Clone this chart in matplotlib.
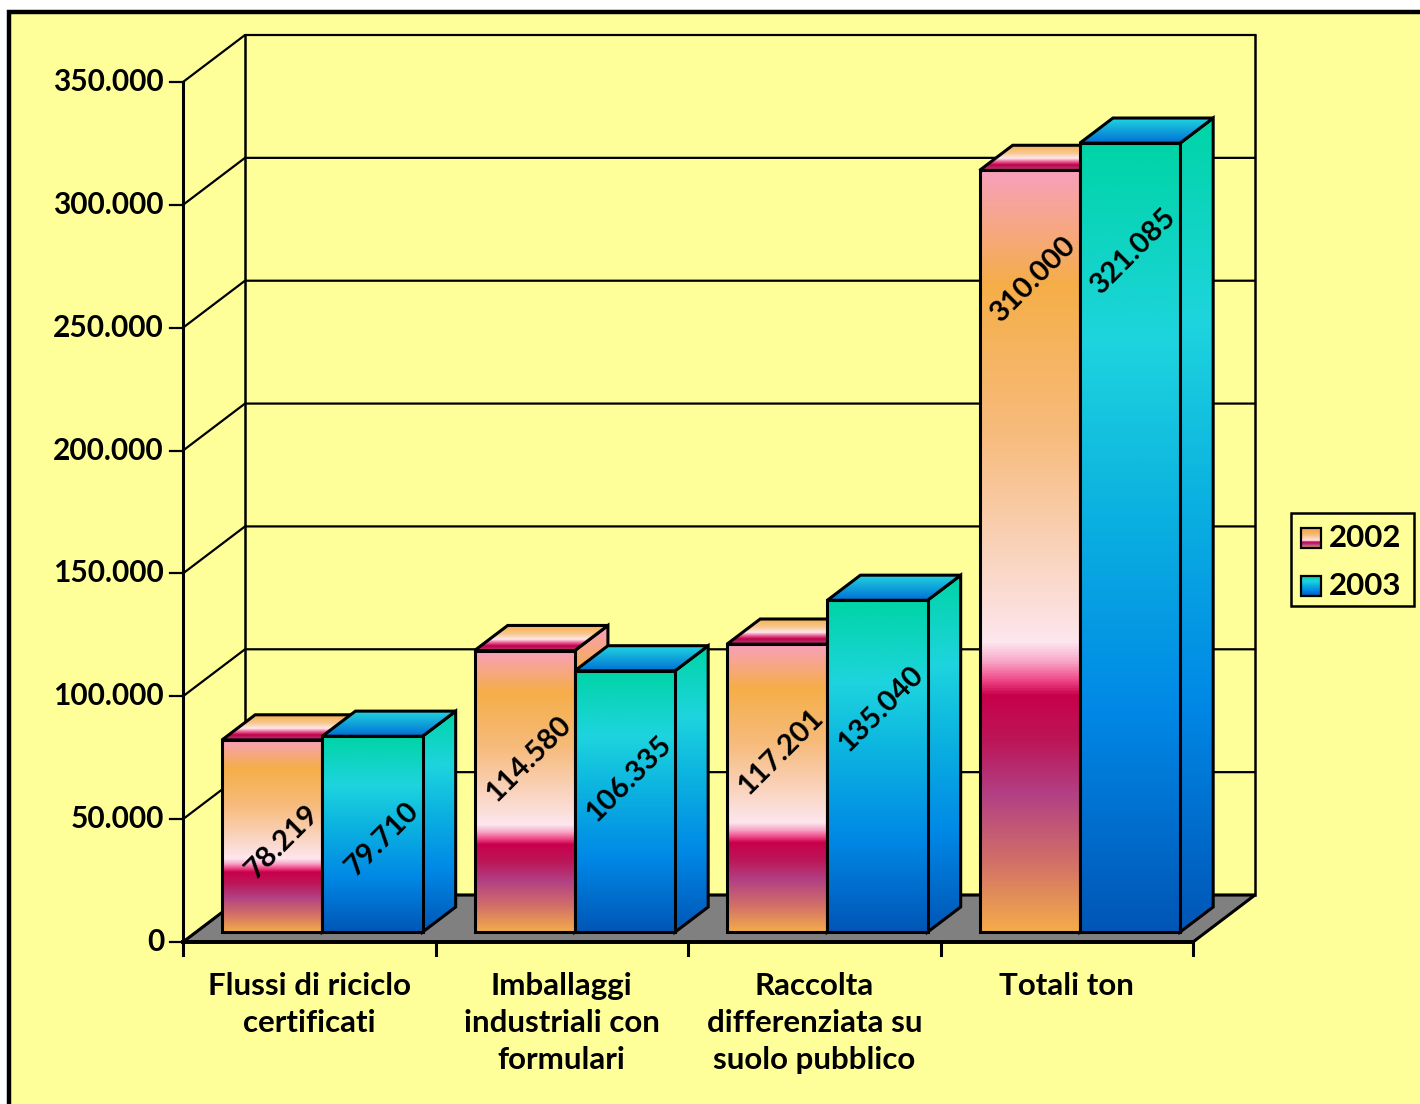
import numpy as np
import matplotlib.pyplot as plt
from matplotlib.colors import LinearSegmentedColormap
from matplotlib.patches import Polygon, Rectangle

plt.rcParams['font.family'] = ['Lato', 'DejaVu Sans']

categories = ['Flussi di riciclo\ncertificati',
              'Imballaggi\nindustriali con\nformulari',
              'Raccolta\ndifferenziata su\nsuolo pubblico',
              'Totali ton']
series_names = ['2002', '2003']
values_2002 = [78219, 114580, 117201, 310000]
values_2003 = [79710, 106335, 135040, 321085]
yticks = [0, 50000, 100000, 150000, 200000, 250000, 300000, 350000]

BG = '#ffff99'

# gradients, first stop = top of the face
cmap_2002 = LinearSegmentedColormap.from_list('c2002', [
    (0.0, '#f8a0bc'), (0.15, '#f5ae48'), (0.35, '#f7bc7e'), (0.52, '#fad6c4'),
    (0.62, '#fde6ee'), (0.645, '#f8a8c8'), (0.67, '#f04888'), (0.69, '#c8004c'),
    (0.75, '#bc1658'), (0.82, '#b24084'), (0.91, '#d27068'), (1.0, '#f4ac4a')])
cmap_2003 = LinearSegmentedColormap.from_list('c2003', [
    (0.0, '#00d4a6'), (0.25, '#1ed4de'), (0.45, '#0cb4e0'), (0.72, '#0088e6'),
    (1.0, '#0056b6')])
top_2002 = LinearSegmentedColormap.from_list('t2002', [
    (0.0, '#f5ae48'), (0.35, '#f8c890'), (0.55, '#fde8ee'), (0.66, '#f070a0'),
    (0.8, '#c0004a'), (1.0, '#b84078')])
top_2003 = LinearSegmentedColormap.from_list('t2003', [
    (0.0, '#22d8e0'), (1.0, '#0070d6')])
GRAD = np.linspace(0, 1, 512).reshape(-1, 1)

fig = plt.figure(figsize=(14.2, 11.04), dpi=100, facecolor='white')
ax = fig.add_axes([0, 0, 1, 1])
ax.axis('off')
ax.set_facecolor('none')

# pixel layout of the front plane: category 0..4 and value 0..350000
X0, PX_CAT = 183, 252.5
Y0, PX_VAL = 942, 860 / 350000
W, H = 1420, 1104


def px(x, y):
    return (x - X0) / PX_CAT, (Y0 - y) / PX_VAL


DX = 62 / PX_CAT
DY = 47 / PX_VAL
D_FRONT, D_BACK = 0.21, 0.745
GAP, BAR_W = 0.103, 0.397
LW = 2.2

TICK_FS = 21.5
CAT_FS = 22.5
VAL_FS = 21
LEG_FS = 22.5


def proj(x, v, d):
    return x + d * DX, v + d * DY


# outer frame
ax.add_patch(Rectangle((9 / W, -0.1), 1.2, 1 - 12 / H + 0.1, transform=ax.transAxes,
                       facecolor=BG, edgecolor='black', lw=3.2, zorder=0))

# floor
n = len(categories)
floor = [proj(0, 0, 0), proj(n, 0, 0), proj(n, 0, 1), proj(0, 0, 1)]
ax.add_patch(Polygon(floor, closed=True, facecolor='#808080', edgecolor='black',
                     lw=LW, zorder=1, joinstyle='miter'))

# walls and gridlines
for v in yticks:
    xa, ya = proj(0, v, 0)
    xb, yb = proj(0, v, 1)
    xc, yc = proj(n, v, 1)
    ax.plot([xa, xb, xc], [ya, yb, yc], color='black', lw=1.6, zorder=2)
    tx0, _ = px(170, 0)
    ax.plot([tx0, 0], [v, v], color='black', lw=1.6, zorder=2)
    ax.text(px(164, 0)[0], v, f'{v:,}'.replace(',', '.'), ha='right', va='center',
            fontsize=TICK_FS, fontweight='bold')

top = yticks[-1]
ax.plot([0, 0], [0, top], color='black', lw=LW, zorder=2)
for x in (0, n):
    xb0, yb0 = proj(x, 0, 1)
    xb1, yb1 = proj(x, top, 1)
    ax.plot([xb0, xb1], [yb0, yb1], color='black', lw=1.8, zorder=2)
ax.plot([0, n], [0, 0], color='black', lw=LW + 0.6, zorder=3)

# category ticks and labels
tick_low = px(0, 955)[1]
for i in range(n + 1):
    ax.plot([i, i], [0, tick_low], color='black', lw=LW, zorder=3)
for i, lab in enumerate(categories):
    ax.text(i + 0.5, px(0, 972)[1], lab, ha='center', va='top', fontsize=CAT_FS,
            fontweight='bold', linespacing=1.4)


def face(verts, cmap, z):
    xs = [p[0] for p in verts]
    ys = [p[1] for p in verts]
    poly = Polygon(verts, closed=True, facecolor='none', edgecolor='black',
                   lw=LW, zorder=z + 0.05, joinstyle='miter')
    ax.add_patch(poly)
    im = ax.imshow(GRAD, cmap=cmap, extent=(min(xs), max(xs), min(ys), max(ys)),
                   aspect='auto', origin='upper', interpolation='bilinear', zorder=z)
    im.set_clip_path(poly)


def bar3d(x0, v, cmap, tcmap, z):
    x1 = x0 + BAR_W
    front = [proj(x0, 0, D_FRONT), proj(x1, 0, D_FRONT),
             proj(x1, v, D_FRONT), proj(x0, v, D_FRONT)]
    side = [proj(x1, 0, D_FRONT), proj(x1, 0, D_BACK),
            proj(x1, v, D_BACK), proj(x1, v, D_FRONT)]
    lid = [proj(x0, v, D_FRONT), proj(x1, v, D_FRONT),
           proj(x1, v, D_BACK), proj(x0, v, D_BACK)]
    face(side, cmap, z)
    face(lid, tcmap, z + 0.2)
    face(front, cmap, z + 0.4)


lab_dx = 8 / PX_CAT
lab_dy = 70 / PX_VAL
for i in range(n):
    for s, (vals, cm, tcm) in enumerate([(values_2002, cmap_2002, top_2002),
                                         (values_2003, cmap_2003, top_2003)]):
        x0 = i + GAP + s * BAR_W
        v = vals[i]
        z = 10 + 2 * i + s
        bar3d(x0, v, cm, tcm, z)
        fx, fy = proj(x0 + BAR_W, v, D_FRONT)
        ax.text(fx - lab_dx, fy - lab_dy, f'{v:,}'.replace(',', '.'), rotation=45,
                rotation_mode='anchor', ha='right', va='center', fontsize=VAL_FS,
                fontweight='bold', zorder=z + 0.9)

# legend box
lx0, ly0 = px(1291, 606)
lx1, ly1 = px(1414, 513)
ax.add_patch(Rectangle((lx0, ly0), lx1 - lx0, ly1 - ly0, facecolor=BG,
                       edgecolor='black', lw=1.8, zorder=30))
for k, (name, cm) in enumerate([('2002', cmap_2002), ('2003', cmap_2003)]):
    cy = 538 + 48 * k
    sx0, sy0 = px(1301, cy + 10)
    sx1, sy1 = px(1321, cy - 10)
    sw = Rectangle((sx0, sy0), sx1 - sx0, sy1 - sy0, facecolor='none',
                   edgecolor='black', lw=1.6, zorder=31.1)
    ax.add_patch(sw)
    im = ax.imshow(GRAD, cmap=cm, extent=(sx0, sx1, sy0, sy1), aspect='auto',
                   origin='upper', interpolation='bilinear', zorder=31)
    im.set_clip_path(sw)
    tx, ty = px(1329, cy)
    ax.text(tx, ty, name, ha='left', va='center', fontsize=LEG_FS, fontweight='bold',
            zorder=32)

ax.set_xlim(px(0, 0)[0], px(W, 0)[0])
ax.set_ylim(px(0, H)[1], px(0, 0)[1])

fig.savefig('out.png', dpi=100, facecolor='white')
